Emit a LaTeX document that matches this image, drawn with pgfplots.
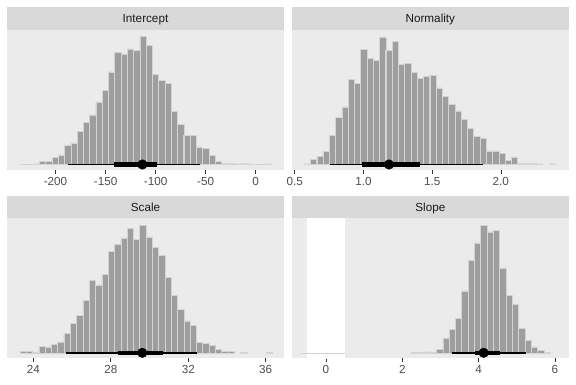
\documentclass[border=0pt]{standalone}
\usepackage{pgfplots}
\pgfplotsset{compat=1.18}
\usepackage{fontspec}
\setmainfont{Liberation Sans}
\definecolor{panelbg}{HTML}{EBEBEB}
\definecolor{stripbg}{HTML}{D9D9D9}
\definecolor{striptext}{HTML}{1A1A1A}
\definecolor{ticktext}{HTML}{4D4D4D}
\definecolor{tickcol}{HTML}{333333}
\definecolor{barfill}{HTML}{9E9E9E}
\definecolor{baredge}{HTML}{D4D4D4}
\pgfplotsset{
 facet/.style={
  scale only axis, height=140pt, anchor=south west,
  ymin=-5.5, ymax=134.5, ytick=\empty,
  axis line style={draw=none},
  axis background/.style={fill=panelbg},
  tick align=outside, major tick length=3.65pt,
  every tick/.style={tickcol, line width=0.6pt},
  xtick pos=lower,
  xticklabel style={font=\fontsize{11.7}{13}\selectfont, text=ticktext, inner sep=0pt, yshift=-3.5pt},
  every axis title shift=0pt,
  every axis title/.style={at={(0.5,1)}, anchor=south, fill=stripbg, minimum height=22.5pt, inner sep=0pt,
    text height=8.4pt, text depth=0pt,
    text=striptext, font=\fontsize{11.7}{13}\selectfont},
 },
 hist/.style={ybar, bar shift=0pt, fill=barfill, draw=baredge, line width=0.5pt},
 thinint/.style={black, line width=1.9pt, no marks},
 thickint/.style={black, line width=4.6pt, no marks},
 ptint/.style={only marks, mark=*, mark size=4.8pt, black},
}
\begin{document}
\begin{tikzpicture}
\path[use as bounding box] (0,0) rectangle (576pt,384pt);
% Intercept
\begin{axis}[facet, at={(7pt,214pt)}, width=277pt, title={Intercept}, title style={minimum width=277pt},
  xmin=-248.5, xmax=28.3, xtick={-200,-150,-100,-50,0}, xticklabels={-200,-150,-100,-50,0}]
\addplot[hist, bar width=6.27] coordinates {
(-231.8,0.3) (-225.5,0.5) (-219.2,0.7) (-213.0,3.3) (-206.7,3.3) (-200.4,7) (-194.1,9.7)
(-187.9,19.3) (-181.6,21.7) (-175.3,33.3) (-169.1,42.3) (-162.8,49.7) (-156.5,62.7)
(-150.3,74.3) (-144.0,92.7) (-137.7,112) (-131.5,110.7) (-125.2,115.7) (-118.9,114)
(-112.7,128.3) (-106.4,119) (-100.1,90.3) (-93.8,84) (-87.6,81.3) (-81.3,53) (-75.0,40)
(-68.8,29) (-62.5,29) (-56.2,17.7) (-50.0,16.3) (-43.7,9.3) (-37.4,3.3) (-31.1,1.3)
(-24.9,1) (-18.6,0.7) (-12.3,1.3) (-6.1,0.7) (0.2,0.3) (6.5,0.3) (12.8,0.7)};
\addplot[thinint] coordinates {(-187.2,0) (-55.5,0)};
\addplot[thickint] coordinates {(-141.5,0) (-98.5,0)};
\addplot[ptint] coordinates {(-113.2,0)};
\end{axis}
% Normality
\begin{axis}[facet, at={(292pt,214pt)}, width=276.7pt, title={Normality}, title style={minimum width=276.7pt},
  xmin=0.480, xmax=2.494, xtick={0.5,1.0,1.5,2.0}, xticklabels={0.5,1.0,1.5,2.0}]
\addplot[hist, bar width=0.0457] coordinates {
(0.591,0.7) (0.637,5.3) (0.683,8) (0.728,13.3) (0.774,29.3) (0.820,47) (0.866,57.7)
(0.911,85.3) (0.957,81.3) (1.003,115) (1.048,106) (1.094,104) (1.140,127.7) (1.185,114.3)
(1.231,123.3) (1.277,100) (1.323,101) (1.368,92.3) (1.414,86.3) (1.460,88.3) (1.505,89.3)
(1.551,76.7) (1.597,68.3) (1.642,60) (1.688,53.7) (1.734,45.3) (1.780,36) (1.825,28)
(1.871,26.7) (1.917,13.7) (1.962,13.7) (2.008,11) (2.054,4) (2.099,7.7) (2.145,1.3)
(2.191,1.3) (2.237,1) (2.282,0.7) (2.374,0.7)};
\addplot[thinint] coordinates {(0.759,0) (1.868,0)};
\addplot[thickint] coordinates {(0.988,0) (1.412,0)};
\addplot[ptint] coordinates {(1.186,0)};
\end{axis}
% Scale
\begin{axis}[facet, at={(7pt,25.7pt)}, width=277pt, title={Scale}, title style={minimum width=277pt},
  xmin=22.642, xmax=36.943, xtick={24,28,32,36}, xticklabels={24,28,32,36}]
\addplot[hist, bar width=0.3256] coordinates {
(23.468,1.7) (23.794,1.3) (24.119,0.7) (24.445,6.7) (24.770,6) (25.096,8.7) (25.422,11)
(25.747,19.3) (26.073,29.3) (26.398,37.7) (26.724,52.7) (27.050,72.7) (27.375,68)
(27.701,78.7) (28.026,101.7) (28.352,108.3) (28.678,115) (29.003,124.7) (29.329,113.7)
(29.654,127.7) (29.980,116) (30.306,105.3) (30.631,97.7) (30.957,75.3) (31.282,57.3)
(31.608,43.3) (31.934,32) (32.259,27.7) (32.585,10.7) (32.910,9.3) (33.236,7.7)
(33.562,3.3) (33.887,1.7) (34.213,1.7) (34.864,0.3) (36.166,0.3)};
\addplot[thinint] coordinates {(25.688,0) (32.435,0)};
\addplot[thickint] coordinates {(28.388,0) (30.696,0)};
\addplot[ptint] coordinates {(29.627,0)};
\end{axis}
% Slope
\begin{axis}[facet, at={(292pt,25.7pt)}, width=276.7pt, title={Slope}, title style={minimum width=276.7pt},
  xmin=-0.891, xmax=6.362, xtick={0,2,4,6}, xticklabels={0,2,4,6}]
\addplot[fill=white, draw=none] coordinates {(-0.5,-10) (-0.5,140) (0.5,140) (0.5,-10)} -- cycle;
\addplot[gray!35, line width=0.5pt, no marks] coordinates {(-0.66,0) (0.5,0)};
\addplot[hist, bar width=0.1656] coordinates {
(2.316,0.3) (2.481,0.3) (2.647,1) (2.812,0.7) (2.978,3.7) (3.144,15) (3.309,23.3)
(3.475,34.3) (3.640,62) (3.806,92.7) (3.971,110) (4.137,127.7) (4.303,121) (4.468,122.7)
(4.634,85) (4.799,57.7) (4.965,48.3) (5.130,24.3) (5.296,12.7) (5.462,6) (5.627,2.7)
(5.793,0.3)};
\addplot[thinint] coordinates {(3.295,0) (5.243,0)};
\addplot[thickint] coordinates {(3.906,0) (4.561,0)};
\addplot[ptint] coordinates {(4.133,0)};
\end{axis}
\end{tikzpicture}
\end{document}
